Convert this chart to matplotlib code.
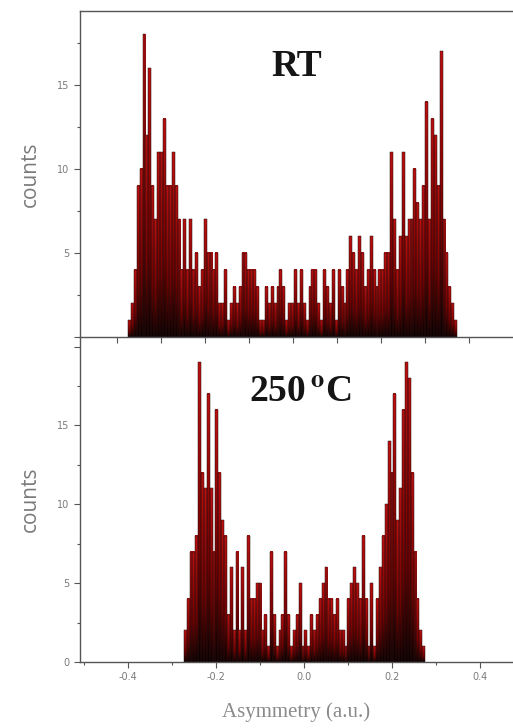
import numpy as np
import matplotlib.pyplot as plt
from matplotlib.colors import LinearSegmentedColormap

# bin counts, left to right
rt_counts = [1, 2, 4, 9, 10, 18, 12, 16, 9, 7, 11, 11, 13, 9, 9, 11, 9, 7, 4, 7,
             4, 7, 4, 5, 3, 4, 7, 5, 5, 4, 5, 2, 2, 4, 1, 2, 3, 2, 3, 5,
             5, 4, 4, 4, 3, 1, 1, 3, 2, 3, 2, 3, 4, 3, 1, 2, 2, 4, 2, 4,
             2, 1, 3, 4, 4, 2, 1, 4, 3, 2, 4, 1, 4, 3, 2, 4, 6, 5, 4, 6,
             5, 3, 4, 6, 4, 3, 4, 4, 5, 5, 11, 7, 4, 6, 11, 6, 7, 7, 10, 8,
             7, 9, 14, 7, 13, 12, 9, 17, 7, 5, 3, 2, 1]
rt_range = (-0.375, 0.373)

hot_counts = [2, 4, 7, 7, 8, 19, 12, 11, 17, 11, 7, 16, 12, 9, 8, 3, 6, 2, 7, 2,
              6, 2, 8, 4, 4, 5, 5, 2, 3, 1, 7, 3, 1, 2, 3, 7, 3, 1, 2, 3,
              5, 1, 2, 1, 3, 2, 3, 4, 5, 6, 4, 4, 3, 4, 2, 2, 1, 4, 5, 6,
              5, 4, 8, 4, 1, 5, 1, 4, 6, 8, 10, 14, 12, 17, 9, 11, 16, 19, 18, 12,
              7, 4, 2, 1]
hot_range = (-0.273, 0.275)

cmap = LinearSegmentedColormap.from_list(
    'redblack', [(0, '#0a0000'), (0.35, '#700000'), (1, '#ba1010')])
grad = np.linspace(0, 1, 64).reshape(-1, 1)

plt.rcParams['mathtext.fontset'] = 'stix'
grey = '#7a7a7a'
spine_c = '#555555'


def draw_hist(ax, counts, lo, hi):
    counts = np.asarray(counts)
    edges = np.linspace(lo, hi, len(counts) + 1)
    for x0, x1, h in zip(edges[:-1], edges[1:], counts):
        ax.imshow(grad, extent=[x0, x1, 0, h], origin='lower', cmap=cmap,
                  aspect='auto', interpolation='bilinear')
    ax.bar(edges[:-1], counts, width=np.diff(edges), align='edge',
           fill=False, edgecolor='#2a1010', lw=0.35)


def style(ax):
    for s in ['left', 'bottom', 'top']:
        ax.spines[s].set_color(spine_c)
        ax.spines[s].set_linewidth(1.0)
    ax.spines['right'].set_visible(False)
    ax.tick_params(which='both', direction='out', color=spine_c,
                   labelcolor=grey, labelsize=7, width=0.8)
    ax.tick_params(which='major', length=4)
    ax.tick_params(which='minor', length=2.5)
    ax.set_yticks([2.5, 7.5, 12.5, 17.5], minor=True)
    ax.set_ylabel('counts', family='Open Sans', fontsize=15, color=grey,
                  labelpad=12)


fig = plt.figure(figsize=(5.13, 7.28), dpi=100)
ax1 = fig.add_axes([0.156, 0.537, 0.844, 0.448])
ax2 = fig.add_axes([0.156, 0.0907, 0.844, 0.4463])
ax1.set_zorder(2)
ax1.patch.set_alpha(0)

draw_hist(ax1, rt_counts, *rt_range)
draw_hist(ax2, hot_counts, *hot_range)

ax1.set_xlim(-0.484, 0.5)
ax1.set_ylim(0, 19.4)
ax2.set_xlim(-0.509, 0.475)
ax2.set_ylim(0, 20.6)

style(ax1)
style(ax2)

ax1.set_xticks([-0.4, -0.2, 0.0, 0.2, 0.4])
ax1.set_xticks([-0.3, -0.1, 0.1, 0.3], minor=True)
ax1.tick_params(axis='x', labelbottom=False)
ax1.tick_params(axis='x', which='minor', length=4)
ax1.set_yticks([0, 5, 10, 15], ['', '5', '10', '15'])

ax2.set_xticks([-0.4, -0.2, 0.0, 0.2, 0.4], ['-0.4', '-0.2', '0.0', '0.2', '0.4'])
ax2.set_xticks([-0.5, -0.3, -0.1, 0.1, 0.3], minor=True)
ax2.set_yticks([0, 5, 10, 15, 20], ['0', '5', '10', '15', ''])
ax2.spines['top'].set_visible(False)
ax2.set_xlabel('Asymmetry (a.u.)', family='Liberation Serif', fontsize=15,
               color='#8a8a8a', labelpad=14)

ax1.text(0.5, 0.83, 'RT', transform=ax1.transAxes, ha='center', va='center',
         family='Liberation Serif', fontsize=27, weight='bold', color='#151515')
ax2.text(0.508, 0.83, r'250$\,^{\mathbf{o}}$C', transform=ax2.transAxes,
         ha='center', va='center', family='Liberation Serif', fontsize=27,
         weight='bold', color='#151515')

fig.savefig('out.png', dpi=100)
